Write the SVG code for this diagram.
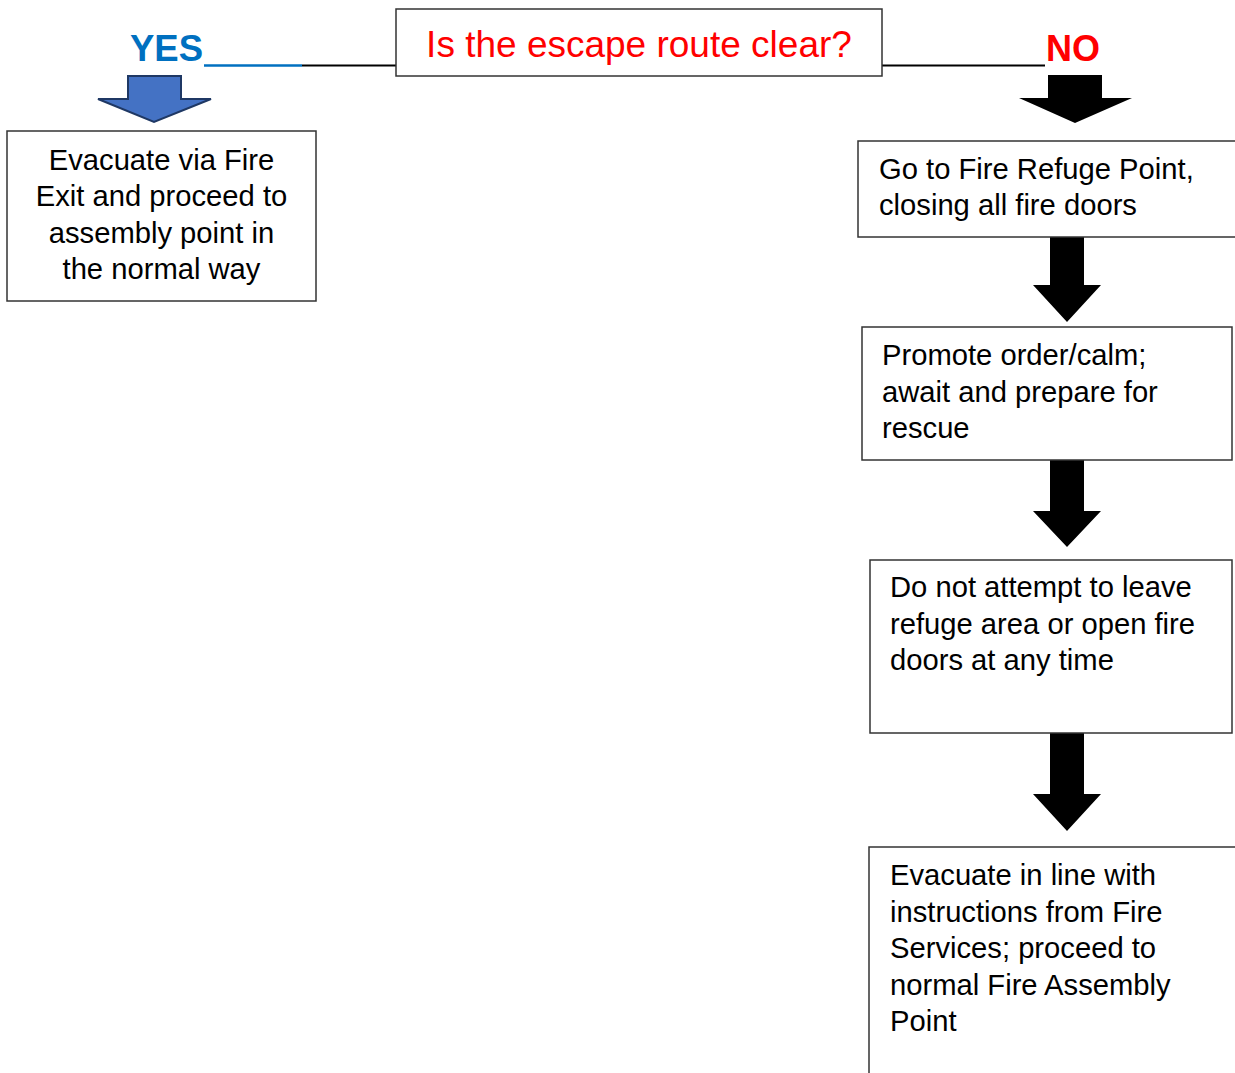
<svg xmlns="http://www.w3.org/2000/svg" width="1235" height="1073" viewBox="0 0 1235 1073">
<style>
.box{fill:#fff;stroke:#333;stroke-width:1.5}
.t{font-family:"Liberation Sans",Arial,sans-serif;font-size:29.2px;fill:#000}
.tc{text-anchor:middle}
.blk{fill:#000}
</style>
<rect width="1235" height="1073" fill="#fff"/>
<g id="connectors">
<line x1="204" y1="65.5" x2="302" y2="65.5" stroke="#0070C0" stroke-width="2.5"/>
<line x1="302" y1="65.5" x2="396" y2="65.5" stroke="#000" stroke-width="2"/>
<line x1="882" y1="65.5" x2="1045" y2="65.5" stroke="#000" stroke-width="2"/>
<polygon points="128,76 181,76 181,99 211,99 154,122 98,99 128,99" fill="#4472C4" stroke="#1F3864" stroke-width="2" stroke-linejoin="miter"/>
<polygon class="blk" points="1048,75 1102,75 1102,98 1132,98 1075,123 1019,98 1048,98"/>
<polygon class="blk" points="1050,236 1084,236 1084,285 1101,285 1067,322 1033,285 1050,285"/>
<polygon class="blk" points="1050,458 1084,458 1084,511 1101,511 1067,547 1033,511 1050,511"/>
<polygon class="blk" points="1050,730 1084,730 1084,794 1101,794 1067,831 1033,794 1050,794"/>
</g>
<g id="question">
<rect class="box" x="396" y="9" width="486" height="67"/>
<text x="639" y="57" text-anchor="middle" font-family="Liberation Sans, Arial, sans-serif" font-size="37" fill="#FF0000">Is the escape route clear?</text>
</g>
<g id="yes-label">
<text x="130" y="61" font-family="Liberation Sans, Arial, sans-serif" font-size="36.5" font-weight="bold" fill="#0070C0">YES</text>
</g>
<g id="no-label">
<text x="1046" y="61" font-family="Liberation Sans, Arial, sans-serif" font-size="36" font-weight="bold" fill="#FF0000">NO</text>
</g>
<g id="yes-box">
<rect class="box" x="7" y="131" width="309" height="170"/>
<text class="t tc" x="161.5" y="169.5">Evacuate via Fire</text>
<text class="t tc" x="161.5" y="206">Exit and proceed to</text>
<text class="t tc" x="161.5" y="242.5">assembly point in</text>
<text class="t tc" x="161.5" y="279">the normal way</text>
</g>
<g id="no-step1">
<rect class="box" x="858" y="141" width="400" height="96"/>
<text class="t" x="879" y="179">Go to Fire Refuge Point,</text>
<text class="t" x="879" y="215">closing all fire doors</text>
</g>
<g id="no-step2">
<rect class="box" x="862" y="327" width="370" height="133"/>
<text class="t" x="882" y="365">Promote order/calm;</text>
<text class="t" x="882" y="401.5">await and prepare for</text>
<text class="t" x="882" y="438">rescue</text>
</g>
<g id="no-step3">
<rect class="box" x="870" y="560" width="362" height="173"/>
<text class="t" x="890" y="597">Do not attempt to leave</text>
<text class="t" x="890" y="633.5">refuge area or open fire</text>
<text class="t" x="890" y="670">doors at any time</text>
</g>
<g id="no-step4">
<rect class="box" x="869" y="847" width="400" height="250"/>
<text class="t" x="890" y="885">Evacuate in line with</text>
<text class="t" x="890" y="921.5">instructions from Fire</text>
<text class="t" x="890" y="958">Services; proceed to</text>
<text class="t" x="890" y="994.5">normal Fire Assembly</text>
<text class="t" x="890" y="1031">Point</text>
</g>
</svg>
